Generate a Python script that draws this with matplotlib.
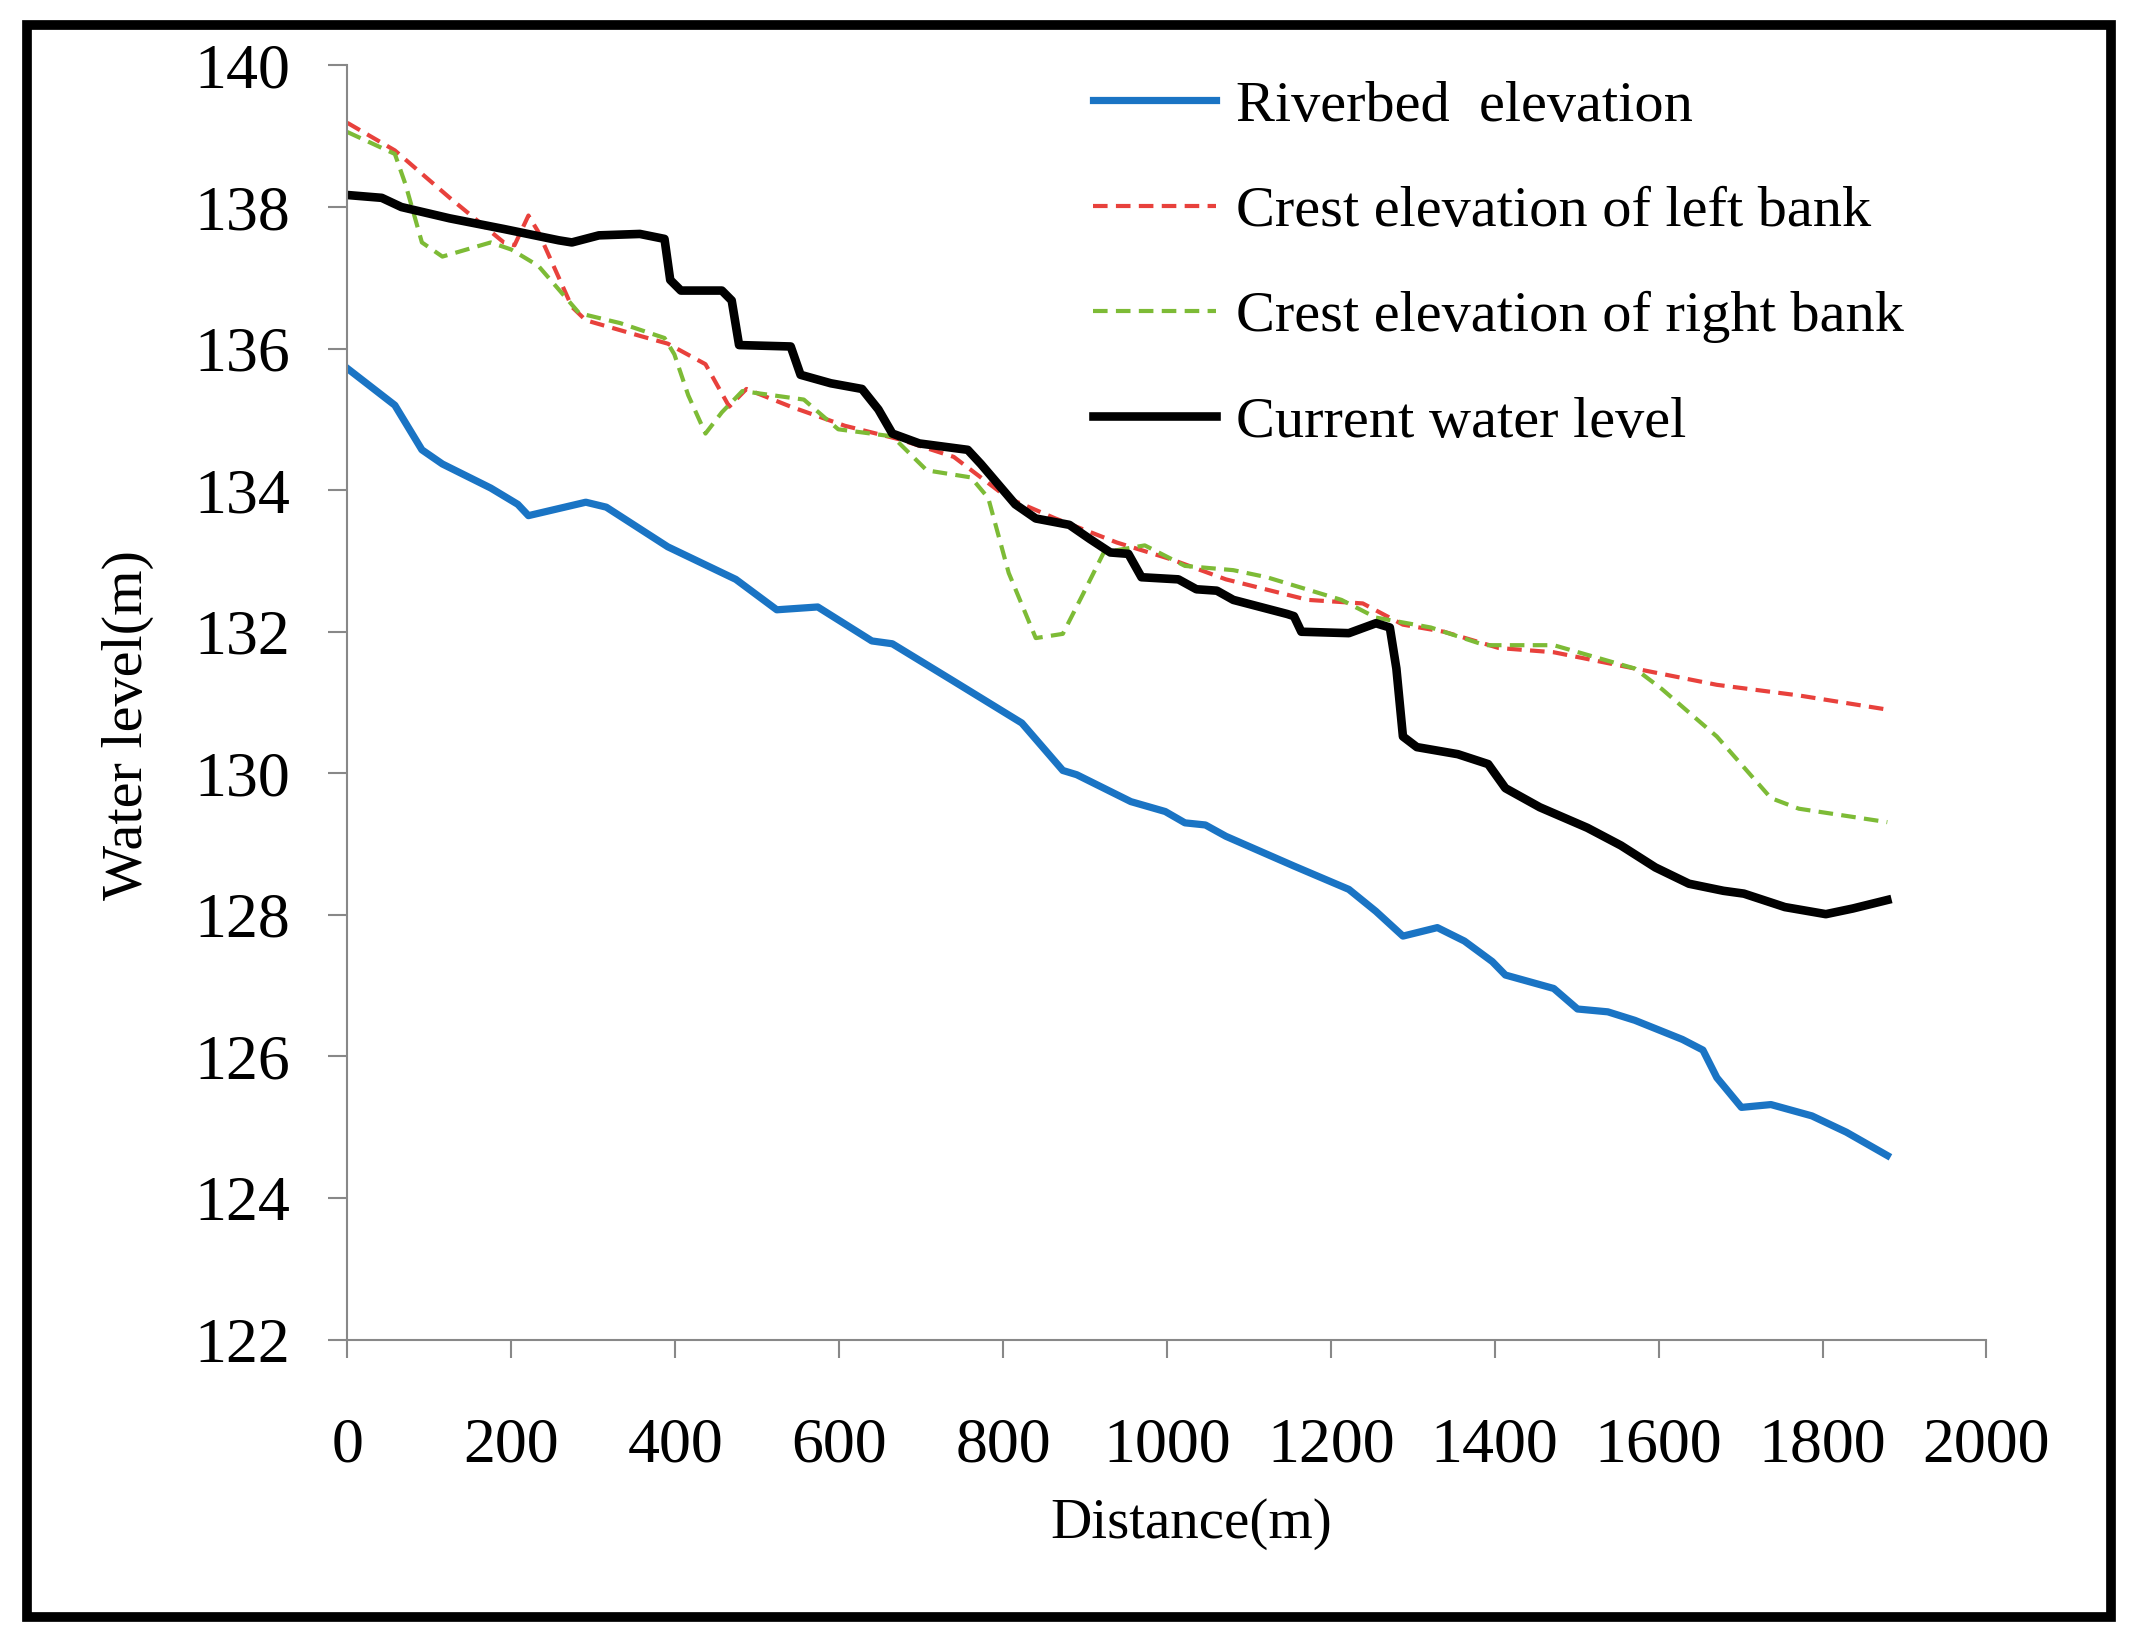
import numpy as np
import matplotlib
matplotlib.use("Agg")
import matplotlib.pyplot as plt
from matplotlib.patches import Rectangle

# distance (m) / elevation (m)
bed_x = [0, 58, 91, 116, 175, 208, 221, 291, 316, 391, 474, 524, 574, 640, 665,
         740, 823, 873, 890, 956, 998, 1022, 1047, 1072, 1155, 1222, 1255, 1288,
         1330, 1363, 1397, 1413, 1472, 1501, 1538, 1571, 1629, 1654, 1671, 1701,
         1737, 1787, 1829, 1879]
bed_y = [135.72, 135.2, 134.57, 134.37, 134.03, 133.8, 133.64, 133.83, 133.76,
         133.2, 132.74, 132.31, 132.35, 131.87, 131.83, 131.3, 130.71, 130.04,
         129.98, 129.6, 129.46, 129.3, 129.27, 129.11, 128.69, 128.36, 128.05,
         127.7, 127.82, 127.63, 127.34, 127.15, 126.96, 126.67, 126.63, 126.51,
         126.24, 126.09, 125.7, 125.28, 125.32, 125.16, 124.93, 124.6]

left_x = [0, 58, 125, 191, 204, 221, 233, 274, 291, 357, 391, 437, 466, 487, 541,
          607, 673, 740, 806, 864, 939, 1006, 1072, 1172, 1239, 1288, 1338, 1405,
          1472, 1571, 1671, 1771, 1879]
left_y = [139.19, 138.8, 138.13, 137.5, 137.46, 137.88, 137.65, 136.59, 136.4,
          136.18, 136.07, 135.78, 135.18, 135.43, 135.18, 134.91, 134.72, 134.47,
          133.89, 133.6, 133.26, 133.02, 132.74, 132.45, 132.4, 132.1, 132.0,
          131.77, 131.71, 131.48, 131.25, 131.1, 130.9]

right_x = [0, 58, 71, 91, 116, 175, 200, 233, 283, 333, 387, 399, 416, 437, 457,
           482, 557, 599, 665, 707, 761, 782, 807, 840, 873, 898, 923, 973, 1022,
           1081, 1122, 1213, 1255, 1322, 1388, 1472, 1571, 1604, 1671, 1737, 1771,
           1879]
right_y = [139.06, 138.75, 138.32, 137.5, 137.3, 137.5, 137.4, 137.17, 136.5,
           136.36, 136.15, 135.92, 135.34, 134.8, 135.1, 135.4, 135.28, 134.86,
           134.76, 134.28, 134.18, 133.89, 132.83, 131.91, 131.97, 132.54, 133.12,
           133.22, 132.93, 132.87, 132.77, 132.45, 132.2, 132.06, 131.81, 131.81,
           131.48, 131.19, 130.52, 129.65, 129.5, 129.31]

water_x = [0, 42, 66, 125, 191, 258, 274, 307, 357, 387, 394, 407, 457, 469, 478,
           541, 553, 590, 628, 648, 665, 698, 757, 773, 815, 840, 881, 906, 931,
           953, 969, 1014, 1036, 1061, 1081, 1147, 1155, 1164, 1222, 1255, 1272,
           1280, 1288, 1305, 1355, 1392, 1413, 1455, 1513, 1554, 1596, 1637, 1679,
           1704, 1754, 1804, 1837, 1879]
water_y = [138.17, 138.13, 138.0, 137.84, 137.69, 137.53, 137.5, 137.6, 137.62,
           137.55, 136.97, 136.82, 136.82, 136.68, 136.05, 136.03, 135.63, 135.51,
           135.43, 135.14, 134.8, 134.66, 134.57, 134.37, 133.8, 133.6, 133.51,
           133.31, 133.12, 133.1, 132.77, 132.74, 132.6, 132.58, 132.45, 132.25,
           132.22, 132.0, 131.98, 132.12, 132.06, 131.48, 130.52, 130.37, 130.27,
           130.13, 129.79, 129.52, 129.23, 128.98, 128.67, 128.44, 128.34, 128.3,
           128.11, 128.01, 128.09, 128.21]

x_ticks = [0, 200, 400, 600, 800, 1000, 1200, 1400, 1600, 1800, 2000]
y_ticks = [122, 124, 126, 128, 130, 132, 134, 136, 138, 140]

plt.rcParams["font.family"] = ["Liberation Serif", "DejaVu Serif"]

fig = plt.figure(figsize=(21.36, 16.37), dpi=100)
ax = fig.add_axes([0.1626, 0.1817, 0.7674, 0.7783])

# outer black frame
fig.patches.append(Rectangle((0.0128, 0.0125), 0.9757, 0.9725, transform=fig.transFigure,
                             fill=False, edgecolor="black", linewidth=7))

ax.plot(bed_x, bed_y, color="#1a74c4", lw=5.2, label="Riverbed  elevation",
        solid_joinstyle="round")
ax.plot(left_x, left_y, color="#e8413c", lw=3, ls=(0, (3.5, 2)),
        label="Crest elevation of left bank")
ax.plot(right_x, right_y, color="#7dbb36", lw=3, ls=(0, (3.5, 2)),
        label="Crest elevation of right bank")
ax.plot(water_x, water_y, color="black", lw=6.2, label="Current water level",
        solid_joinstyle="round")

ax.set_xlim(0, 2000)
ax.set_ylim(122, 140)
ax.set_xticks(x_ticks)
ax.set_yticks(y_ticks)
ax.tick_params(axis="x", labelsize=46, length=13, width=1.5, color="#888888", pad=43)
ax.tick_params(axis="y", labelsize=46, length=14, width=1.5, color="#888888", pad=27)

for s in ["top", "right"]:
    ax.spines[s].set_visible(False)
for s in ["left", "bottom"]:
    ax.spines[s].set_color("#888888")
    ax.spines[s].set_linewidth(1.5)

ax.set_xlabel("Distance(m)", fontsize=41)
ax.set_ylabel("Water level(m)", fontsize=42)
ax.xaxis.set_label_coords(0.515, -0.124)
ax.yaxis.set_label_coords(-0.118, 0.482)

ax.legend(loc="upper left", bbox_to_anchor=(0.423, 1.03), frameon=False, fontsize=42,
          handlelength=2.1, handletextpad=0.35, labelspacing=0.9)

fig.savefig("out.png", dpi=100)
